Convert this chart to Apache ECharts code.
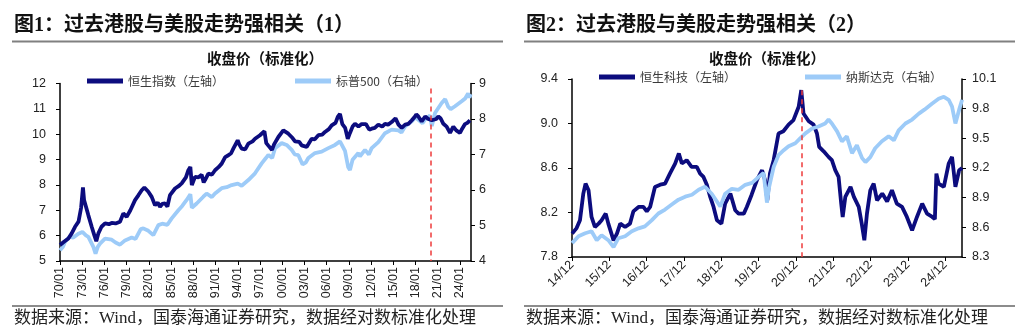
<!DOCTYPE html>
<html><head><meta charset="utf-8">
<script src="https://cdn.jsdelivr.net/npm/echarts@6/dist/echarts.min.js"></script>
<style>html,body{margin:0;padding:0;background:#fff}#c{width:1024px;height:335px}</style>
</head><body><div id="c"></div>
<script>
// ---------- Chart 1 data (decimal year, standardized log close) ----------
var hsiYears = [1970.00,1970.50,1971.13,1971.58,1972.03,1972.50,1972.85,1973.10,1973.25,1973.50,1973.83,1974.28,1974.65,1974.90,1975.18,1975.60,1976.08,1976.60,1976.98,1977.50,1978.10,1978.55,1979.00,1979.50,1980.13,1980.60,1981.03,1981.39,1981.93,1982.38,1982.83,1983.20,1983.50,1983.80,1984.18,1984.50,1984.85,1985.53,1986.00,1986.43,1987.00,1987.33,1987.60,1987.80,1988.23,1988.70,1989.13,1989.40,1989.58,1990.03,1990.50,1990.93,1991.40,1991.83,1992.30,1992.73,1993.10,1993.40,1993.99,1994.20,1994.53,1995.00,1995.43,1996.00,1996.33,1997.00,1997.60,1997.85,1998.13,1998.62,1998.90,1999.48,2000.15,2000.83,2001.40,2001.73,2002.30,2002.63,2003.30,2003.98,2004.40,2004.88,2005.40,2005.78,2006.30,2006.68,2007.20,2007.50,2007.80,2008.12,2008.50,2008.85,2009.15,2009.50,2009.83,2010.30,2010.73,2011.30,2011.75,2012.08,2012.50,2012.98,2013.50,2013.88,2014.30,2014.78,2015.30,2015.70,2016.13,2016.60,2017.03,2017.50,2017.93,2018.10,2018.38,2018.83,2019.30,2019.73,2020.20,2020.41,2020.80,2021.08,2021.40,2021.76,2022.20,2022.66,2022.85,2023.10,2023.50,2024.00,2024.30,2024.68,2025.00,2025.35];
var hsiValues = [5.63,5.75,5.89,6.09,6.35,6.55,7.10,7.90,7.40,7.15,6.80,6.35,6.00,5.78,6.09,6.35,6.48,6.45,6.50,6.48,6.55,6.88,6.74,7.00,7.40,7.60,7.79,7.90,7.73,7.53,7.20,7.30,7.14,7.25,7.27,7.15,7.60,7.86,7.95,8.06,8.30,8.58,8.71,7.99,8.32,8.30,8.40,8.10,8.19,8.45,8.40,8.58,8.70,8.84,9.10,9.17,9.25,9.43,9.76,9.60,9.43,9.40,9.63,9.72,9.82,9.96,10.12,9.65,9.55,9.38,9.60,9.89,10.15,10.02,9.85,9.72,9.70,9.56,9.50,9.82,9.80,9.96,9.98,10.09,10.20,10.35,10.45,10.68,10.80,10.40,10.25,9.82,10.05,10.30,10.41,10.30,10.40,10.40,10.18,10.22,10.25,10.38,10.30,10.41,10.38,10.48,10.63,10.38,10.25,10.38,10.41,10.55,10.70,10.78,10.70,10.50,10.70,10.60,10.55,10.55,10.60,10.70,10.62,10.41,10.30,10.05,10.02,10.30,10.15,10.05,10.22,10.40,10.45,10.55];

var spxYears = [1970.00,1970.40,1970.68,1971.30,1971.80,1972.48,1973.02,1973.50,1973.83,1974.50,1974.80,1975.10,1975.40,1976.08,1976.98,1977.50,1978.10,1978.78,1979.68,1980.20,1980.90,1981.25,1981.93,1982.60,1983.28,1983.80,1984.50,1985.08,1985.98,1986.50,1987.10,1987.60,1987.80,1988.45,1989.35,1989.80,1990.50,1990.93,1991.83,1992.50,1993.18,1994.00,1994.53,1995.43,1996.33,1997.23,1997.80,1998.13,1998.65,1999.03,1999.93,2000.60,2001.28,2001.70,2002.18,2002.75,2003.20,2003.53,2004.43,2005.33,2006.23,2007.13,2007.80,2008.48,2008.90,2009.15,2009.50,2010.28,2010.50,2011.18,2011.70,2012.08,2012.98,2013.88,2014.78,2015.68,2016.10,2016.58,2017.48,2018.00,2018.38,2018.95,2019.28,2019.95,2020.20,2020.63,2021.53,2022.00,2022.40,2022.75,2023.33,2024.23,2024.70,2025.10,2025.28,2025.45];
var spxValues = [4.30,4.40,4.54,4.68,4.66,4.77,4.82,4.72,4.68,4.40,4.21,4.40,4.49,4.63,4.60,4.52,4.46,4.58,4.66,4.62,4.90,4.92,4.85,4.73,5.01,5.05,5.02,5.20,5.43,5.55,5.72,5.88,5.50,5.62,5.81,5.90,5.80,5.90,6.05,6.08,6.14,6.18,6.12,6.28,6.47,6.75,6.90,6.99,6.90,7.18,7.32,7.27,7.13,7.00,6.98,6.72,6.78,6.90,7.04,7.08,7.18,7.27,7.37,7.10,6.65,6.56,6.85,7.04,6.95,7.13,7.00,7.18,7.35,7.60,7.70,7.68,7.62,7.79,7.93,8.05,7.98,7.88,7.98,8.10,7.80,8.17,8.45,8.56,8.35,8.28,8.36,8.50,8.58,8.72,8.60,8.70];

var x1Labels = ['70/01','73/01','76/01','79/01','82/01','85/01','88/01','91/01','94/01','97/01','00/01','03/01','06/01','09/01','12/01','15/01','18/01','21/01','24/01'];
var y1LeftLabels = ['5','6','7','8','9','10','11','12'];
var y1RightLabels = ['4','5','6','7','8','9'];
var mark1Year = 2020.0;

// ---------- Chart 2 data ----------
var hstYears = [2014.92,2015.04,2015.13,2015.22,2015.28,2015.36,2015.44,2015.53,2015.63,2015.71,2015.82,2015.89,2016.03,2016.12,2016.21,2016.34,2016.47,2016.56,2016.70,2016.83,2016.92,2017.01,2017.14,2017.28,2017.41,2017.54,2017.68,2017.78,2017.86,2017.99,2018.12,2018.26,2018.35,2018.44,2018.53,2018.62,2018.71,2018.80,2018.92,2019.02,2019.16,2019.29,2019.38,2019.52,2019.60,2019.73,2019.87,2020.01,2020.09,2020.15,2020.22,2020.32,2020.45,2020.58,2020.72,2020.85,2020.99,2021.06,2021.12,2021.26,2021.39,2021.48,2021.54,2021.66,2021.79,2021.88,2021.97,2022.06,2022.13,2022.17,2022.24,2022.38,2022.47,2022.60,2022.68,2022.75,2022.82,2022.91,2023.00,2023.09,2023.23,2023.36,2023.49,2023.62,2023.76,2023.89,2024.03,2024.16,2024.30,2024.43,2024.57,2024.64,2024.68,2024.74,2024.88,2025.01,2025.10,2025.19,2025.29,2025.37];
var hstValues = [8.01,8.06,8.13,8.37,8.46,8.40,8.16,8.07,8.10,8.13,8.19,8.10,7.95,8.01,8.10,8.07,8.10,8.21,8.25,8.25,8.21,8.25,8.43,8.45,8.46,8.55,8.64,8.73,8.64,8.67,8.61,8.61,8.55,8.52,8.45,8.34,8.25,8.13,8.10,8.28,8.37,8.22,8.19,8.19,8.25,8.36,8.49,8.58,8.49,8.31,8.55,8.67,8.91,8.93,8.99,9.03,9.15,9.30,9.09,9.02,8.99,8.91,8.79,8.75,8.70,8.67,8.58,8.52,8.28,8.16,8.34,8.43,8.34,8.25,8.10,7.95,8.19,8.40,8.46,8.31,8.37,8.30,8.40,8.28,8.25,8.16,8.04,8.16,8.28,8.19,8.16,8.14,8.55,8.46,8.43,8.64,8.70,8.43,8.58,8.60];

var ndxYears = [2014.92,2015.09,2015.27,2015.44,2015.58,2015.71,2015.89,2016.03,2016.16,2016.34,2016.52,2016.70,2016.87,2017.05,2017.23,2017.41,2017.59,2017.77,2017.95,2018.13,2018.31,2018.48,2018.66,2018.89,2019.02,2019.20,2019.38,2019.56,2019.74,2019.92,2020.05,2020.09,2020.14,2020.20,2020.32,2020.45,2020.59,2020.72,2020.90,2021.03,2021.17,2021.35,2021.52,2021.70,2021.79,2021.88,2022.02,2022.15,2022.28,2022.42,2022.55,2022.69,2022.78,2022.91,2023.04,2023.22,2023.40,2023.54,2023.67,2023.85,2024.03,2024.21,2024.36,2024.56,2024.74,2024.88,2025.01,2025.10,2025.19,2025.29,2025.37];
var ndxValues = [8.44,8.51,8.54,8.56,8.47,8.52,8.47,8.40,8.49,8.51,8.56,8.59,8.61,8.67,8.74,8.78,8.83,8.88,8.91,8.93,8.98,9.01,8.94,8.81,8.94,8.99,8.98,9.03,9.05,9.11,9.15,9.13,8.85,9.01,9.21,9.33,9.38,9.42,9.45,9.50,9.55,9.60,9.62,9.65,9.69,9.65,9.57,9.47,9.52,9.35,9.43,9.30,9.26,9.31,9.40,9.47,9.52,9.48,9.58,9.65,9.69,9.75,9.79,9.85,9.90,9.92,9.89,9.82,9.65,9.79,9.89];

var x2Labels = ['14/12','15/12','16/12','17/12','18/12','19/12','20/12','21/12','22/12','23/12','24/12'];
var y2LeftLabels = ['7.8','8.2','8.6','9.0','9.4'];
var y2RightLabels = ['8.3','8.6','8.9','9.2','9.5','9.8','10.1'];
var mark2Year = 2021.06;

// ---------- build ----------
var X1_BASE = 1970, X2_BASE = 2014.9167;
var Y2L_BASE = 7.8, Y2R_BASE = 8.3;
function pairs(xs, ys, xb, yb) { return xs.map(function (x, i) { return [x - xb, ys[i] - yb]; }); }

var DARK = '#0c0c7e', LIGHT = '#9dcbf8', RED = '#ee3b3b';
var LW = 3.8;
var labelFont = "'Liberation Sans', Arial, sans-serif";
var cjk = "'Noto Sans CJK SC', sans-serif";
var serifCjk = "'Liberation Serif', 'Noto Sans CJK SC', serif";

function near(v, step) { var k = Math.round(v / step); return Math.abs(v - k * step) < 1e-6 ? k : -1; }

var axisCommon = {
  axisLine: { show: true, lineStyle: { color: '#000', width: 1.5 } },
  axisTick: { show: true, length: 4, lineStyle: { color: '#000', width: 1 } },
  splitLine: { show: false }
};
function mk(base, extra) { return Object.assign({}, JSON.parse(JSON.stringify(base)), extra); }

var lblStyle = { color: '#222', fontSize: 12.5, fontFamily: labelFont };

var option = {
  animation: false,
  backgroundColor: '#fff',
  grid: [
    { left: 60, right: 553, top: 83.5, bottom: 74 },
    { left: 572, right: 62, top: 79, bottom: 78 }
  ],
  xAxis: [
    mk(axisCommon, { type: 'value', gridIndex: 0, min: 0, max: 55.49, interval: 3,
      axisLabel: Object.assign({}, lblStyle, { rotate: 90, margin: 6, showMaxLabel: false,
        formatter: function (v) { var k = near(v, 3); return k >= 0 && k < x1Labels.length ? x1Labels[k] : ''; } }) }),
    mk(axisCommon, { type: 'value', gridIndex: 1, min: 0, max: 10.45, interval: 1,
      axisLabel: Object.assign({}, lblStyle, { rotate: 45, margin: 6, showMaxLabel: false,
        formatter: function (v) { var k = near(v, 1); return k >= 0 && k < x2Labels.length ? x2Labels[k] : ''; } }) })
  ],
  yAxis: [
    mk(axisCommon, { type: 'value', gridIndex: 0, position: 'left', min: 5, max: 12, interval: 1,
      axisLabel: Object.assign({}, lblStyle, { margin: 14, formatter: function (v) { return y1LeftLabels[v - 5]; } }) }),
    mk(axisCommon, { type: 'value', gridIndex: 0, position: 'right', min: 4, max: 9, interval: 1,
      axisLabel: Object.assign({}, lblStyle, { margin: 8, formatter: function (v) { return y1RightLabels[v - 4]; } }) }),
    mk(axisCommon, { type: 'value', gridIndex: 1, position: 'left', min: 0, max: 1.6, interval: 0.4,
      axisLabel: Object.assign({}, lblStyle, { margin: 14, formatter: function (v) { var k = near(v, 0.4); return k >= 0 ? y2LeftLabels[k] : ''; } }) }),
    mk(axisCommon, { type: 'value', gridIndex: 1, position: 'right', min: 0, max: 1.8, interval: 0.3,
      axisLabel: Object.assign({}, lblStyle, { margin: 10, formatter: function (v) { var k = near(v, 0.3); return k >= 0 ? y2RightLabels[k] : ''; } }) })
  ],
  legend: [
    { data: ['恒生指数（左轴）'], left: 87, top: 75 },
    { data: ['标普500（右轴）'], left: 295, top: 75 },
    { data: ['恒生科技（左轴）'], left: 599, top: 71 },
    { data: ['纳斯达克（右轴）'], left: 805, top: 71 }
  ].map(function (l) {
    return Object.assign(l, { padding: 0, icon: 'rect', itemWidth: 36, itemHeight: 5,
      textStyle: { color: '#3a3a3a', fontSize: 12, fontFamily: cjk }, selectedMode: false });
  }),
  series: [
    { name: '标普500（右轴）', type: 'line', xAxisIndex: 0, yAxisIndex: 1, showSymbol: false, symbol: 'none',
      lineStyle: { color: LIGHT, width: LW }, itemStyle: { color: LIGHT },
      data: pairs(spxYears, spxValues, X1_BASE, 0) },
    { name: '恒生指数（左轴）', type: 'line', xAxisIndex: 0, yAxisIndex: 0, showSymbol: false, symbol: 'none',
      lineStyle: { color: DARK, width: LW }, itemStyle: { color: DARK },
      data: pairs(hsiYears, hsiValues, X1_BASE, 0),
      markLine: { silent: true, symbol: 'none', label: { show: false },
        lineStyle: { color: RED, width: 1.5, type: [5, 4] },
        data: [[{ coord: [mark1Year - X1_BASE, 11.8] }, { coord: [mark1Year - X1_BASE, 5] }]] } },
    { name: '恒生科技（左轴）', type: 'line', xAxisIndex: 1, yAxisIndex: 2, showSymbol: false, symbol: 'none',
      lineStyle: { color: DARK, width: LW }, itemStyle: { color: DARK },
      data: pairs(hstYears, hstValues, X2_BASE, Y2L_BASE),
      markLine: { silent: true, symbol: 'none', label: { show: false },
        lineStyle: { color: RED, width: 1.5, type: [5, 4] },
        data: [[{ coord: [mark2Year - X2_BASE, 9.30 - Y2L_BASE] }, { coord: [mark2Year - X2_BASE, 0] }]] } },
    { name: '纳斯达克（右轴）', type: 'line', xAxisIndex: 1, yAxisIndex: 3, showSymbol: false, symbol: 'none',
      lineStyle: { color: LIGHT, width: LW }, itemStyle: { color: LIGHT },
      data: pairs(ndxYears, ndxValues, X2_BASE, Y2R_BASE) }
  ],
  graphic: [
    { type: 'text', left: 14, top: 16, style: { text: '图1：过去港股与美股走势强相关（1）', font: 'bold 20px ' + serifCjk, fill: '#111' } },
    { type: 'text', left: 526, top: 16, style: { text: '图2：过去港股与美股走势强相关（2）', font: 'bold 20px ' + serifCjk, fill: '#111' } },
    { type: 'line', shape: { x1: 12, y1: 41.5, x2: 503, y2: 41.5 }, style: { stroke: '#808080', lineWidth: 2 } },
    { type: 'line', shape: { x1: 524, y1: 41.5, x2: 1015, y2: 41.5 }, style: { stroke: '#808080', lineWidth: 2 } },
    { type: 'text', x: 265, y: 58, style: { text: '收盘价（标准化）', font: 'bold 14.5px ' + cjk, fill: '#111', align: 'center', verticalAlign: 'middle' } },
    { type: 'text', x: 767, y: 58, style: { text: '收盘价（标准化）', font: 'bold 14.5px ' + cjk, fill: '#111', align: 'center', verticalAlign: 'middle' } },
    { type: 'line', shape: { x1: 12, y1: 306, x2: 503, y2: 306 }, style: { stroke: '#666', lineWidth: 1.5 } },
    { type: 'line', shape: { x1: 524, y1: 306, x2: 1015, y2: 306 }, style: { stroke: '#666', lineWidth: 1.5 } },
    { type: 'text', x: 14, y: 319, style: { text: '数据来源：Wind，国泰海通证券研究，数据经对数标准化处理', font: '17px ' + serifCjk, fill: '#222', verticalAlign: 'middle' } },
    { type: 'text', x: 526, y: 319, style: { text: '数据来源：Wind，国泰海通证券研究，数据经对数标准化处理', font: '17px ' + serifCjk, fill: '#222', verticalAlign: 'middle' } }
  ]
};
var chart = echarts.init(document.getElementById('c'), null, { renderer: 'canvas' });
chart.setOption(option);
</script></body></html>
